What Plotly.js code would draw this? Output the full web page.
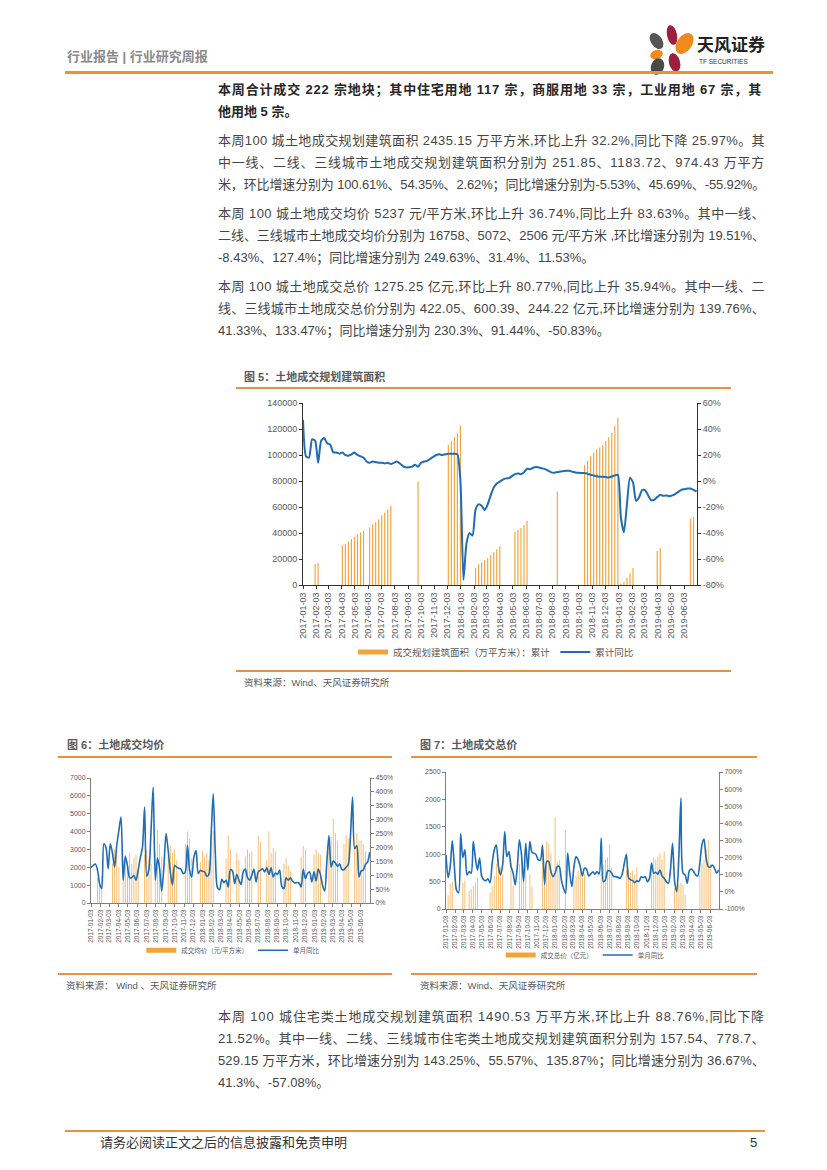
<!DOCTYPE html>
<html><head><meta charset="utf-8">
<script src="https://cdn.plot.ly/plotly-3.0.1.min.js"></script>
<style>
body{margin:0;background:#fff;}
#page{position:relative;width:827px;height:1170px;overflow:hidden;font-family:"Liberation Sans","Noto Sans CJK SC",sans-serif;background:#fff;}
.t{position:absolute;white-space:nowrap;font-size:13px;line-height:18px;color:#454545;}
.b{font-weight:bold;color:#262626;}
.rule{position:absolute;background:#E9923E;}
.ft{position:absolute;white-space:nowrap;font-size:11px;font-weight:bold;color:#595959;line-height:14px;}
.src{position:absolute;white-space:nowrap;font-size:9.5px;color:#595959;line-height:12px;}
.petal{position:absolute;border-radius:50%;}
.chart{position:absolute;}
</style></head>
<body><div id="page">
<div class="t b" style="left:67px;top:48px;color:#8a8a8a;font-size:13px;">行业报告 | 行业研究周报</div>
<div class="petal" style="left:667px;top:25px;width:10px;height:20px;background:#9E1F3D;transform:rotate(-12deg)"></div>
<div class="petal" style="left:677px;top:32px;width:15px;height:23px;background:#EF8A1E;transform:rotate(35deg)"></div>
<div class="petal" style="left:651px;top:32px;width:11px;height:18px;background:#555;transform:rotate(-35deg)"></div>
<div class="petal" style="left:650px;top:50px;width:13px;height:9px;background:#EF8A1E;transform:rotate(-20deg)"></div>
<div class="petal" style="left:669px;top:53px;width:11px;height:19px;background:#9E1F3D;transform:rotate(-15deg)"></div>
<div class="petal" style="left:651px;top:58px;width:13px;height:17px;background:#4a4a4a;transform:rotate(20deg)"></div>
<div class="t" style="left:697px;top:36px;font-size:17px;line-height:20px;font-weight:bold;color:#222;">天风证券</div>
<div class="t" style="left:699px;top:58px;font-size:6.5px;line-height:8px;color:#333;">TF SECURITIES</div>
<div class="rule" style="left:65px;top:71px;width:708px;height:2.5px;"></div>

<div class="t b j" data-w="544" style="left:218px;top:81px;">本周合计成交 222 宗地块；其中住宅用地 117 宗，商服用地 33 宗，工业用地 67 宗，其</div>
<div class="t b" style="left:218px;top:103px;">他用地 5 宗。</div>

<div class="t j" data-w="547" style="left:218px;top:132px;">本周100 城土地成交规划建筑面积 2435.15 万平方米,环比上升 32.2%,同比下降 25.97%。其</div>
<div class="t j" data-w="547" style="left:218px;top:154px;">中一线、二线、三线城市土地成交规划建筑面积分别为 251.85、1183.72、974.43 万平方</div>
<div class="t j" data-w="547" style="left:218px;top:176px;">米，环比增速分别为 100.61%、54.35%、2.62%；同比增速分别为-5.53%、45.69%、-55.92%。</div>

<div class="t j" data-w="547" style="left:218px;top:205px;">本周 100 城土地成交均价 5237 元/平方米,环比上升 36.74%,同比上升 83.63%。其中一线、</div>
<div class="t j" data-w="547" style="left:218px;top:227px;">二线、三线城市土地成交均价分别为 16758、5072、2506 元/平方米 ,环比增速分别为 19.51%、</div>
<div class="t" style="left:218px;top:249px;">-8.43%、127.4%；同比增速分别为 249.63%、31.4%、11.53%。</div>

<div class="t j" data-w="547" style="left:218px;top:278px;">本周 100 城土地成交总价 1275.25 亿元,环比上升 80.77%,同比上升 35.94%。其中一线、二</div>
<div class="t j" data-w="547" style="left:218px;top:300px;">线、三线城市土地成交总价分别为 422.05、600.39、244.22 亿元,环比增速分别为 139.76%、</div>
<div class="t" style="left:218px;top:322px;">41.33%、133.47%；同比增速分别为 230.3%、91.44%、-50.83%。</div>

<div class="ft" style="left:244px;top:370px;">图 5：土地成交规划建筑面积</div>
<div class="rule" style="left:236px;top:387px;width:495px;height:1.5px;"></div>
<div id="fig5" class="chart" style="left:236px;top:395px;width:495px;height:290px;"></div>
<div class="rule" style="left:236px;top:670px;width:495px;height:1.5px;"></div>
<div class="src" style="left:244px;top:677px;">资料来源：Wind、天风证券研究所</div>

<div class="ft" style="left:67px;top:738px;">图 6：土地成交均价</div>
<div class="rule" style="left:58px;top:756px;width:334px;height:1.5px;"></div>
<div id="fig6" class="chart" style="left:58px;top:765px;width:335px;height:240px;"></div>
<div class="rule" style="left:58px;top:973px;width:334px;height:1.5px;"></div>
<div class="src" style="left:66px;top:980px;">资料来源： Wind 、天风证券研究所</div>

<div class="ft" style="left:420px;top:738px;">图 7：土地成交总价</div>
<div class="rule" style="left:411px;top:756px;width:346px;height:1.5px;"></div>
<div id="fig7" class="chart" style="left:411px;top:762px;width:346px;height:240px;"></div>
<div class="rule" style="left:411px;top:973px;width:346px;height:1.5px;"></div>
<div class="src" style="left:420px;top:980px;">资料来源：Wind、天风证券研究所</div>

<div class="t j" data-w="547" style="left:218px;top:1008px;">本周 100 城住宅类土地成交规划建筑面积 1490.53 万平方米,环比上升 88.76%,同比下降</div>
<div class="t j" data-w="547" style="left:218px;top:1030px;">21.52%。其中一线、二线、三线城市住宅类土地成交规划建筑面积分别为 157.54、778.7、</div>
<div class="t j" data-w="547" style="left:218px;top:1052px;">529.15 万平方米，环比增速分别为 143.25%、55.57%、135.87%；同比增速分别为 36.67%、</div>
<div class="t" style="left:218px;top:1074px;">41.3%、-57.08%。</div>

<div class="rule" style="left:65px;top:1130px;width:700px;height:2px;"></div>
<div class="t" style="left:100px;top:1134px;color:#333;">请务必阅读正文之后的信息披露和免责申明</div>
<div class="t" style="left:750px;top:1134px;color:#333;">5</div>
</div>
<script>
const weekDates = ['2017-01-03','2017-01-10','2017-01-17','2017-01-24','2017-01-31','2017-02-07','2017-02-14','2017-02-21','2017-02-28','2017-03-07','2017-03-14','2017-03-21','2017-03-28','2017-04-04','2017-04-11','2017-04-18','2017-04-25','2017-05-02','2017-05-09','2017-05-16','2017-05-23','2017-05-30','2017-06-06','2017-06-13','2017-06-20','2017-06-27','2017-07-04','2017-07-11','2017-07-18','2017-07-25','2017-08-01','2017-08-08','2017-08-15','2017-08-22','2017-08-29','2017-09-05','2017-09-12','2017-09-19','2017-09-26','2017-10-03','2017-10-10','2017-10-17','2017-10-24','2017-10-31','2017-11-07','2017-11-14','2017-11-21','2017-11-28','2017-12-05','2017-12-12','2017-12-19','2017-12-26',
'2018-01-02','2018-01-09','2018-01-16','2018-01-23','2018-01-30','2018-02-06','2018-02-13','2018-02-20','2018-02-27','2018-03-06','2018-03-13','2018-03-20','2018-03-27','2018-04-03','2018-04-10','2018-04-17','2018-04-24','2018-05-01','2018-05-08','2018-05-15','2018-05-22','2018-05-29','2018-06-05','2018-06-12','2018-06-19','2018-06-26','2018-07-03','2018-07-10','2018-07-17','2018-07-24','2018-07-31','2018-08-07','2018-08-14','2018-08-21','2018-08-28','2018-09-04','2018-09-11','2018-09-18','2018-09-25','2018-10-02','2018-10-09','2018-10-16','2018-10-23','2018-10-30','2018-11-06','2018-11-13','2018-11-20','2018-11-27','2018-12-04','2018-12-11','2018-12-18','2018-12-25',
'2019-01-01','2019-01-08','2019-01-15','2019-01-22','2019-01-29','2019-02-05','2019-02-12','2019-02-19','2019-02-26','2019-03-05','2019-03-12','2019-03-19','2019-03-26','2019-04-02','2019-04-09','2019-04-16','2019-04-23','2019-04-30','2019-05-07','2019-05-14','2019-05-21','2019-05-28','2019-06-04','2019-06-11','2019-06-18','2019-06-25','2019-07-02'];

const monthTicks = ['2017-01-03','2017-02-03','2017-03-03','2017-04-03','2017-05-03','2017-06-03','2017-07-03','2017-08-03','2017-09-03','2017-10-03','2017-11-03','2017-12-03','2018-01-03','2018-02-03','2018-03-03','2018-04-03','2018-05-03','2018-06-03','2018-07-03','2018-08-03','2018-09-03','2018-10-03','2018-11-03','2018-12-03','2019-01-03','2019-02-03','2019-03-03','2019-04-03','2019-05-03','2019-06-03'];

// Fig 5: cumulative planned floor area (10k m2) and cumulative YoY (%)
const fig5Area = [null,null,null,null,16200,17000,null,null,null,null,
null,null,null,30500,31600,33400,35400,37200,38800,40300,
41600,null,44400,46700,48500,50600,53700,55700,58300,60900,
null,null,null,null,null,null,null,null,79500,null,
null,null,null,null,null,null,null,null,107900,111000,
113800,116700,122700,null,null,null,null,13000,16000,17500,
19000,20500,23000,25500,27500,30000,null,null,null,null,
41000,42400,43900,46200,49300,null,null,null,null,null,
null,null,null,null,71700,null,null,null,null,null,
null,null,null,92500,95300,99200,101700,104500,105800,107900,
110700,113800,117100,122500,128400,1000,2500,5600,9000,13100,
null,null,null,null,null,null,null,26200,28500,null,
null,null,null,null,null,null,null,null,50900,52400,
null];
const fig5Yoy = [47,19,18,32,31,14,31,33,29,28,
22,22,21,22,20,19.5,20.5,22,20,19,
18,15,14,15,14.5,14,14,13.5,14,13,
14,15,13.5,11.5,10.5,10.5,11,12.5,11,14,
15,15.5,17,18.5,20,20.5,20,20.5,21,21,
21,20.5,0,-76,-48,-40,-42,-22,-18,-19,
-22.5,-18,-11,-5,-2,-0.5,1,2,2.2,3.7,
5.3,5.8,5.3,6.8,9.4,9.1,10.2,10.7,10.4,9.7,
9.1,7.9,6.6,6.3,6.8,7.3,7.6,7.9,7.9,7.1,
6.6,6.3,6.1,6.1,5.5,4.8,4.3,3.7,3.2,3.2,
3.0,2.7,3.5,4.3,4.8,-28,-39.5,-18,2.5,-1,
-15.3,-12.7,-7,-7,-11,-14.7,-14.5,-12.4,-10.6,-11.4,
-11.1,-11.7,-11.1,-9.9,-8.3,-6.8,-6.3,-5.8,-5.8,-6.8,
-8.1];
const fig5LeftTicks = [0,20000,40000,60000,80000,100000,120000,140000];
const fig5RightTicks = [-80,-60,-40,-20,0,20,40,60];
const fig5RightText = ['-80%','-60%','-40%','-20%','0%','20%','40%','60%'];

// Fig 6: average land price (yuan/m2) and single-month YoY (%)
const fig6Price = [null,null,null,1400,1300,1500,null,null,null,null,
2200,3000,2600,2000,null,2400,2700,2300,2800,2200,
2500,2700,1900,null,null,2700,3000,2500,2200,null,
2900,4100,3300,2600,null,null,2600,3200,2800,3000,
2400,null,null,null,3300,4000,3600,2500,null,null,
null,2300,2900,2600,2800,2400,3800,4000,null,null,
null,null,null,2500,3800,3000,null,null,2800,2400,
null,null,2600,3000,2800,2900,null,null,3800,3400,
null,null,2400,4000,2800,3100,2900,null,null,null,
2200,2500,2100,1800,null,null,null,null,2600,3200,
3000,null,null,null,2700,3000,2800,2700,null,null,
null,3200,3700,4700,3900,3500,null,null,3300,3800,
3600,null,null,3400,3900,3500,3500,3300,2900,null,
null];
const fig6Yoy = [127,135,140,120,70,52,213,199,123,213,
180,129,207,261,309,82,168,135,91,91,
100,82,118,163,200,345,96,120,261,417,
82,162,124,43,129,250,189,112,64,135,
129,125,121,106,112,207,118,94,165,189,
106,118,114,112,96,103,237,393,177,55,
48,85,73,82,58,120,115,70,103,82,
67,112,122,91,82,100,121,76,112,118,
123,112,127,103,127,94,108,103,118,60,
52,91,82,91,79,72,74,72,58,121,
88,106,112,76,112,79,122,103,64,43,
147,243,129,151,144,132,141,120,120,129,
138,237,381,195,207,94,115,118,139,147,
183];
const fig6LeftTicks = [0,1000,2000,3000,4000,5000,6000,7000];
const fig6RightTicks = [0,50,100,150,200,250,300,350,400,450];
const fig6RightText = ['0%','50%','100%','150%','200%','250%','300%','350%','400%','450%'];

// Fig 7: total land transaction value (100m yuan) and single-month YoY (%)
const fig7Total = [null,250,460,500,null,null,null,null,480,520,
null,330,360,420,480,560,null,null,null,null,
null,300,420,600,820,920,760,640,null,null,
null,850,420,null,null,820,900,560,800,null,
640,400,null,null,null,null,1180,600,1230,1200,
1020,650,1670,860,900,null,null,1440,null,null,
null,520,600,700,680,560,640,null,null,null,
null,null,null,null,640,800,900,940,1180,760,
null,null,null,null,null,null,700,740,660,700,
620,760,null,null,null,null,null,null,860,940,
900,960,1020,900,1060,null,null,null,null,380,
420,460,480,440,260,null,null,null,null,null,
null,620,830,900,1080,1260,820,null,null,null,
null];
const fig7Yoy = [216,83,148,298,148,11,-4,340,200,245,
99,119,109,294,197,128,197,93,70,66,
76,54,167,245,274,148,99,158,352,206,
235,148,109,40,148,304,216,60,284,128,
294,230,226,216,187,187,270,44,177,177,
119,89,109,148,148,70,21,-8,226,109,
31,148,206,187,148,93,138,132,93,105,
117,103,119,105,313,60,70,121,124,109,
89,89,85,79,105,167,220,83,70,66,
54,66,60,89,83,89,60,79,167,109,
115,103,128,93,79,60,50,128,284,60,
1,206,548,109,99,50,122,134,120,99,
93,167,274,308,197,148,144,157,138,109,
128];
const fig7LeftTicks = [0,500,1000,1500,2000,2500];
const fig7RightTicks = [-100,0,100,200,300,400,500,600,700];
const fig7RightText = ['-100%','0%','100%','200%','300%','400%','500%','600%','700%'];

const FONT = '"Liberation Sans", "Noto Sans CJK SC", sans-serif';
const BAR = '#F2A33A';
const BAR_LIGHT = '#F5B55C';
const BLUE = '#1F6DB4';

function xCfg(sz, lc){
  return {type:'date', range:['2017-01-03','2019-07-03'], tickmode:'array', tickvals:monthTicks, ticktext:monthTicks,
    tickangle:-90, tickfont:{size:sz,color:'#595959',family:FONT}, showline:true, linecolor:lc, linewidth:1,
    ticks:'outside', ticklen:3, tickcolor:lc, showgrid:false, zeroline:false, automargin:false, fixedrange:true};
}
function yCfg(range, vals, text, sz, lc, side){
  const c = {range:range, tickmode:'array', tickvals:vals, ticktext:text, tickfont:{size:sz,color:'#595959',family:FONT},
    showline:true, linecolor:lc, linewidth:1, ticks:'outside', ticklen:3, tickcolor:lc, showgrid:false, zeroline:false,
    automargin:false, fixedrange:true};
  if(side==='right'){ c.overlaying='y'; c.side='right'; }
  return c;
}
// legend-only swatch: a wide short orange key like the original legend
function swatch(name, color){
  return {type:'scatter', mode:'lines', x:[null], y:[null], name:name, line:{color:color, width:5}, showlegend:true, hoverinfo:'skip'};
}
const cfg = {displayModeBar:false, staticPlot:true};

Plotly.newPlot('fig5', [
  {type:'bar', x:weekDates, y:fig5Area, name:'成交规划建筑面积（万平方米）：累计', marker:{color:BAR}, yaxis:'y', showlegend:false},
  swatch('成交规划建筑面积（万平方米）：累计', BAR),
  {type:'scatter', mode:'lines', x:weekDates, y:fig5Yoy, name:'累计同比', line:{color:BLUE, width:2, shape:'spline', smoothing:0.6}, yaxis:'y2'}
], {
  width:495, height:290, margin:{l:67,r:34,t:8,b:100}, paper_bgcolor:'rgba(0,0,0,0)', plot_bgcolor:'rgba(0,0,0,0)',
  bargap:0.62, showlegend:true, font:{family:FONT},
  legend:{orientation:'h', x:0.49, xanchor:'center', y:-0.368, yanchor:'middle', font:{size:9.5,color:'#595959',family:FONT}, itemwidth:30},
  xaxis:xCfg(9,'#333'),
  yaxis:yCfg([0,140000], fig5LeftTicks, fig5LeftTicks.map(String), 9, '#333'),
  yaxis2:yCfg([-80,60], fig5RightTicks, fig5RightText, 9, '#333', 'right')
}, cfg);

Plotly.newPlot('fig6', [
  {type:'bar', x:weekDates, y:fig6Price, name:'成交均价（元/平方米）', marker:{color:BAR_LIGHT}, yaxis:'y', showlegend:false},
  swatch('成交均价（元/平方米）', BAR),
  {type:'scatter', mode:'lines', x:weekDates, y:fig6Yoy, name:'单月同比', line:{color:BLUE, width:1.6, shape:'spline', smoothing:0.8}, yaxis:'y2'}
], {
  width:335, height:240, margin:{l:33,r:23,t:12.7,b:102.3}, paper_bgcolor:'rgba(0,0,0,0)', plot_bgcolor:'rgba(0,0,0,0)',
  bargap:0.6, showlegend:true, font:{family:FONT},
  legend:{orientation:'h', x:0.51, xanchor:'center', y:-0.378, yanchor:'middle', font:{size:6.5,color:'#595959',family:FONT}, itemwidth:30},
  xaxis:xCfg(6.5,'#7f7f7f'),
  yaxis:yCfg([0,7000], fig6LeftTicks, fig6LeftTicks.map(String), 7, '#7f7f7f'),
  yaxis2:yCfg([0,450], fig6RightTicks, fig6RightText, 7, '#7f7f7f', 'right')
}, cfg);

Plotly.newPlot('fig7', [
  {type:'bar', x:weekDates, y:fig7Total, name:'成交总价（亿元）', marker:{color:BAR_LIGHT}, yaxis:'y', showlegend:false},
  swatch('成交总价（亿元）', BAR),
  {type:'scatter', mode:'lines', x:weekDates, y:fig7Yoy, name:'单月同比', line:{color:BLUE, width:1.6, shape:'spline', smoothing:0.8}, yaxis:'y2'}
], {
  width:346, height:240, margin:{l:35,r:38,t:10.3,b:93}, paper_bgcolor:'rgba(0,0,0,0)', plot_bgcolor:'rgba(0,0,0,0)',
  bargap:0.6, showlegend:true, font:{family:FONT},
  legend:{orientation:'h', x:0.51, xanchor:'center', y:-0.336, yanchor:'middle', font:{size:6.5,color:'#595959',family:FONT}, itemwidth:30},
  xaxis:xCfg(6.5,'#7f7f7f'),
  yaxis:yCfg([0,2500], fig7LeftTicks, fig7LeftTicks.map(String), 7, '#7f7f7f'),
  yaxis2:yCfg([-100,700], fig7RightTicks, fig7RightText, 7, '#7f7f7f', 'right')
}, cfg);

function fitLines(){
  document.querySelectorAll('.j').forEach(el=>{
    el.style.letterSpacing='0px';
    const target = parseFloat(el.dataset.w);
    const n = Array.from(el.textContent).length;
    const w = el.getBoundingClientRect().width;
    el.style.letterSpacing = ((target - w)/n)+'px';
  });
}
if(document.fonts && document.fonts.ready){ document.fonts.ready.then(fitLines); } else { fitLines(); }
fitLines();
</script>
</body></html>
